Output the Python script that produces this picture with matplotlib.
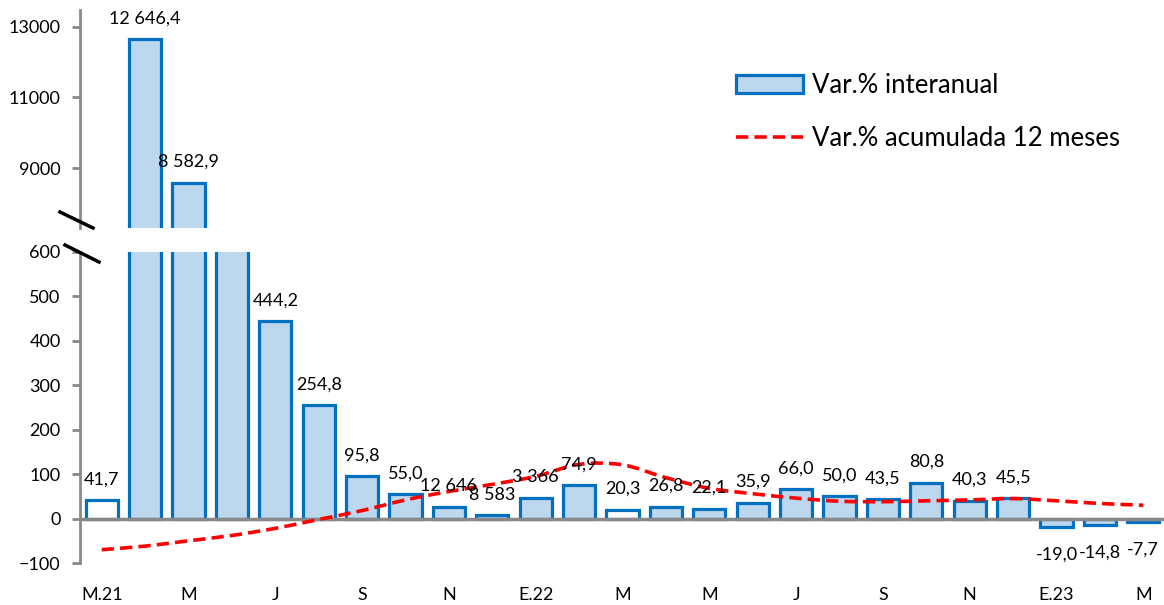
import matplotlib
matplotlib.use("Agg")
import matplotlib.pyplot as plt
from matplotlib.patches import Patch, PathPatch
from matplotlib.lines import Line2D
from matplotlib.path import Path

plt.rcParams['font.family'] = ['Lato', 'DejaVu Sans']

# monthly data, Mar 2021 .. Mar 2023
months = ["2021-03", "2021-04", "2021-05", "2021-06", "2021-07", "2021-08", "2021-09",
          "2021-10", "2021-11", "2021-12", "2022-01", "2022-02", "2022-03", "2022-04",
          "2022-05", "2022-06", "2022-07", "2022-08", "2022-09", "2022-10", "2022-11",
          "2022-12", "2023-01", "2023-02", "2023-03"]
interanual = [41.7, 12646.4, 8582.9, 1800.0, 444.2, 254.8, 95.8, 55.0, 27.0, 7.0, 47.0, 74.9,
              20.3, 26.8, 22.1, 35.9, 66.0, 50.0, 43.5, 80.8, 40.3, 45.5, -19.0, -14.8, -7.7]
acumulada = [-70, -62, -50, -38, -22, -2, 18, 42, 61, 77, 95, 122,
             121, 92, 68, 56, 46, 39, 38, 40, 42, 45, 40, 34, 30]
bar_labels = ["41,7", "12 646,4", "8 582,9", "", "444,2", "254,8", "95,8", "55,0",
              "12 646", "8 583", "3 366", "74,9", "20,3", "26,8", "22,1", "35,9", "66,0",
              "50,0", "43,5", "80,8", "40,3", "45,5", "-19,0", "-14,8", "-7,7"]
tick_names = ["M.21", "M", "J", "S", "N", "E.22", "M", "M", "J", "S", "N", "E.23", "M"]

W, H = 1164, 605
fig = plt.figure(figsize=(W / 100, H / 100), dpi=100)

def fx(px):
    return px / W

def fy(py):
    return 1 - py / H

ax_top = fig.add_axes([fx(80), fy(228), fx(1085), (228 - 10) / H])
ax_bot = fig.add_axes([fx(80), fy(563), fx(1085), (563 - 252) / H])

grey = '#898989'
blue_edge = '#0070C0'
blue_fill = '#BDD7EE'
red = '#FF0000'
dash = (0, (3.4, 1.7))
x = list(range(len(months)))
fills = ['white' if m.endswith('-03') else blue_fill for m in months]

for ax in (ax_top, ax_bot):
    ax.bar(x, interanual, width=0.74, color=fills, edgecolor=blue_edge, linewidth=2.3, zorder=2)
    ax.set_xlim(-0.5, len(months) - 0.5)
    for s in ('top', 'right', 'bottom'):
        ax.spines[s].set_visible(False)
    ax.spines['left'].set_color(grey)
    ax.spines['left'].set_linewidth(2)
    ax.tick_params(axis='y', direction='out', length=6, width=2, color=grey,
                   labelsize=13, pad=8)

ax_top.set_ylim(7310, 13470)
ax_top.set_yticks([9000, 11000, 13000])
ax_top.set_xticks([])

ax_bot.set_ylim(-100, 600)
ax_bot.set_yticks(range(-100, 601, 100))
ax_bot.axhline(0, color=grey, linewidth=2.5, zorder=3)

# smoothed line like Excel (cubic bezier through the points)
pts = list(zip(x, acumulada))
verts = [pts[0]]
codes = [Path.MOVETO]
n = len(pts)
for i in range(n - 1):
    p0 = pts[max(i - 1, 0)]
    p1 = pts[i]
    p2 = pts[i + 1]
    p3 = pts[min(i + 2, n - 1)]
    c1 = (p1[0] + (p2[0] - p0[0]) / 6, p1[1] + (p2[1] - p0[1]) / 6)
    c2 = (p2[0] - (p3[0] - p1[0]) / 6, p2[1] - (p3[1] - p1[1]) / 6)
    verts += [c1, c2, p2]
    codes += [Path.CURVE4] * 3
ax_bot.add_patch(PathPatch(Path(verts, codes), fill=False, edgecolor=red,
                           linewidth=2.6, linestyle=dash, zorder=4))

ax_bot.set_xticks(x[::2])
ax_bot.set_xticklabels(tick_names)
ax_bot.tick_params(axis='x', length=0, labelsize=13, pad=17)

for i, (v, lab) in enumerate(zip(interanual, bar_labels)):
    if not lab:
        continue
    ax = ax_top if v > 7310 else ax_bot
    off = 15 if v >= 0 else -20
    ax.annotate(lab, (i, v), xytext=(0, off), textcoords='offset points',
                ha='center', va='center', fontsize=13, zorder=5)

# axis break marks
for (x0, y0, x1, y1) in [(60, 212, 93, 228), (65, 245, 99, 262)]:
    fig.add_artist(Line2D([fx(x0), fx(x1)], [fy(y0), fy(y1)], color='black', linewidth=2.5))

handles = [Patch(facecolor=blue_fill, edgecolor=blue_edge, linewidth=2.3),
           Line2D([], [], color=red, linewidth=2.6, linestyle=dash)]
fig.legend(handles, ["Var.% interanual", "Var.% acumulada 12 meses"],
           loc='upper left', bbox_to_anchor=(fx(736), fy(73)), frameon=False,
           fontsize=18.5, handlelength=2.6, handleheight=0.7, handletextpad=0.35,
           labelspacing=1.1, borderpad=0, borderaxespad=0)

fig.savefig('out.png', dpi=100)
